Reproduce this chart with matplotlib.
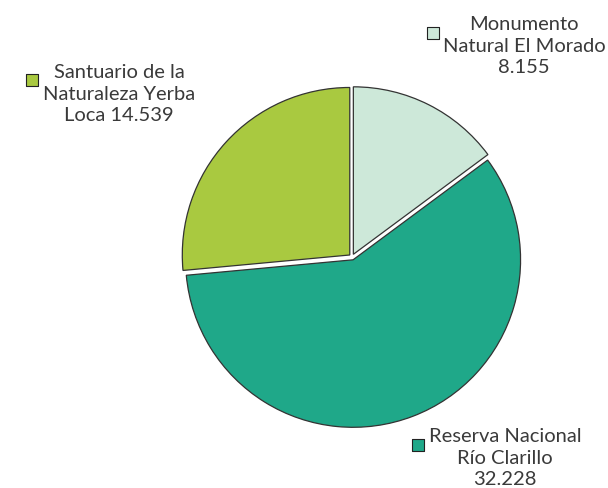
import matplotlib.pyplot as plt

# superficie por unidad (miles de ha)
areas = ['Monumento\nNatural El Morado',
         'Reserva Nacional\nRío Clarillo',
         'Santuario de la\nNaturaleza Yerba\nLoca']
values = [8.155, 32.228, 14.539]
colors = ['#cde8d9', '#1fa889', '#a9c940']

W, H = 608, 488
fig = plt.figure(figsize=(W / 100, H / 100), dpi=100)
ax = fig.add_axes([0, 0, 1, 1])

# explode va en unidades de datos (pixeles aqui)
ax.pie(values, colors=colors, startangle=90, counterclock=False,
       center=(352, H - 257), radius=167.5, explode=[3] * 3,
       wedgeprops=dict(edgecolor='#333333', linewidth=0.9),
       frame=True)
ax.set_xlim(0, W)
ax.set_ylim(0, H)
ax.set_aspect('equal')
ax.axis('off')


def fmt(v):
    return '%.3f' % v


# etiquetas: (x centro texto, y linea central, x cuadro, y cuadro) en pixeles desde arriba
label_pos = [(524, 46, 433, 33),
             (505, 458, 418, 445),
             (119, 94, 32, 80)]

for name, v, c, (tx, ty, sx, sy) in zip(areas, values, colors, label_pos):
    lines = name.split('\n')
    if len(lines) == 3:
        lines[-1] = lines[-1] + ' ' + fmt(v)
    else:
        lines.append(fmt(v))
    ax.text(tx, H - ty, '\n'.join(lines), ha='center', va='center',
            fontsize=14.5, family='Lato', color='#3a3a3a',
            linespacing=1.3)
    ax.scatter([sx], [H - sy], marker='s', s=80, color=c,
               edgecolors='#222222', linewidths=0.8, zorder=5)

fig.savefig('out.png', dpi=100)
